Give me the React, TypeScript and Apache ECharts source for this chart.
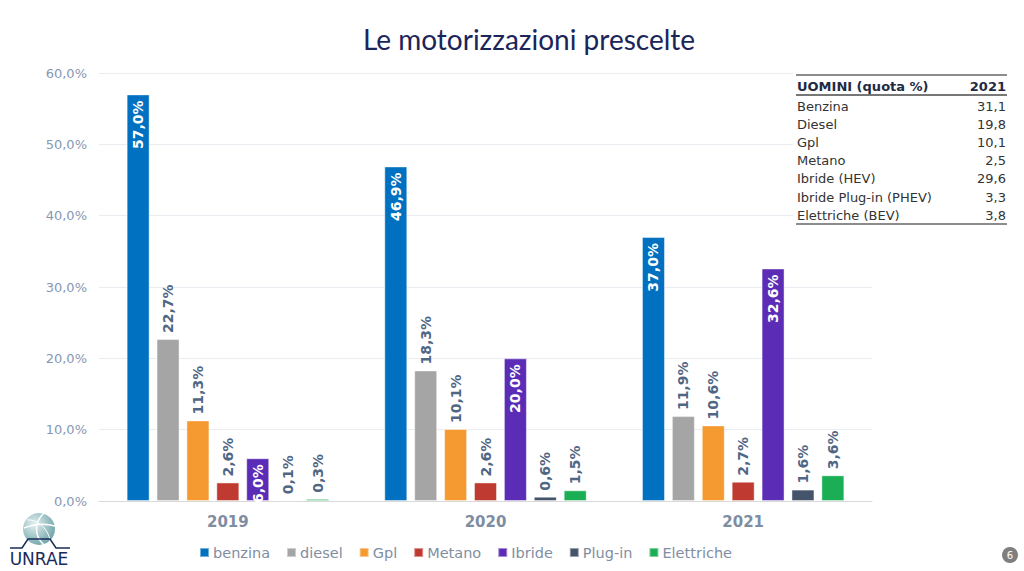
import React, { useEffect, useRef } from "react";
import * as echarts from "echarts";

const years = ["2019", "2020", "2021"];
const seriesNames = ["benzina", "diesel", "Gpl", "Metano", "Ibride", "Plug-in", "Elettriche"];
const benzina = [57.0, 46.9, 37.0];
const diesel = [22.7, 18.3, 11.9];
const gpl = [11.3, 10.1, 10.6];
const metano = [2.6, 2.6, 2.7];
const ibride = [6.0, 20.0, 32.6];
const plugin = [0.1, 0.6, 1.6];
const elettriche = [0.3, 1.5, 3.6];
const seriesValues = [benzina, diesel, gpl, metano, ibride, plugin, elettriche];
const seriesColors = ["#0070C0", "#A5A5A5", "#F49A31", "#BF3A30", "#5B2DB6", "#44546A", "#1AAE55"];
const insideSeries = ["benzina", "Ibride"];

const tableTitle = "UOMINI (quota %)";
const tableYear = "2021";
const tableLabels = ["Benzina", "Diesel", "Gpl", "Metano", "Ibride (HEV)", "Ibride Plug-in (PHEV)", "Elettriche (BEV)"];
const tableValues = ["31,1", "19,8", "10,1", "2,5", "29,6", "3,3", "3,8"];

const fmt = (v: number) => v.toFixed(1).replace(".", ",") + "%";
const FONT = "DejaVu Sans";

export default function App() {
  const ref = useRef<HTMLDivElement>(null);
  useEffect(() => {
    if (!ref.current) return;
    const chart = echarts.init(ref.current, null, { renderer: "svg" });

    const series = seriesNames.map((name, i) => {
      const inside = insideSeries.includes(name);
      return {
        name,
        type: "bar",
        data: seriesValues[i],
        barWidth: 23,
        barGap: "30%",
        itemStyle: { color: seriesColors[i], borderColor: "rgba(255,255,255,0.45)", borderWidth: 1 },
        label: inside
          ? {
              show: true,
              position: "insideTop",
              rotate: 90,
              align: "right",
              verticalAlign: "middle",
              distance: 6,
              color: "#FFFFFF",
              fontFamily: FONT,
              fontWeight: "bold",
              fontSize: 14,
              formatter: (p: any) => fmt(p.value),
            }
          : {
              show: true,
              position: "top",
              rotate: 90,
              align: "left",
              verticalAlign: "middle",
              distance: 6,
              color: "#506685",
              fontFamily: FONT,
              fontWeight: "bold",
              fontSize: 14,
              formatter: (p: any) => fmt(p.value),
            },
      };
    });

    const rowY0 = 106;
    const rowH = 18.2;
    const tableGraphics: any[] = [
      { type: "rect", shape: { x: 793, y: 70, width: 218, height: 158 }, style: { fill: "#FFFFFF" }, z: 10 },
      { type: "line", shape: { x1: 796, y1: 75, x2: 1007, y2: 75 }, style: { stroke: "#8C8C8C", lineWidth: 2 }, z: 11 },
      { type: "line", shape: { x1: 796, y1: 95, x2: 1007, y2: 95 }, style: { stroke: "#4A4A4A", lineWidth: 1.5 }, z: 11 },
      { type: "line", shape: { x1: 796, y1: 224, x2: 1007, y2: 224 }, style: { stroke: "#8C8C8C", lineWidth: 2 }, z: 11 },
      {
        type: "text", x: 797, y: 86, z: 11,
        style: { text: tableTitle, font: `bold 13px '${FONT}'`, fill: "#1F2A44", textAlign: "left", textVerticalAlign: "middle" },
      },
      {
        type: "text", x: 1006, y: 86, z: 11,
        style: { text: tableYear, font: `bold 13px '${FONT}'`, fill: "#1F2A44", textAlign: "right", textVerticalAlign: "middle" },
      },
    ];
    tableLabels.forEach((lab, i) => {
      tableGraphics.push({
        type: "text", x: 797, y: rowY0 + i * rowH, z: 11,
        style: { text: lab, font: `13px '${FONT}'`, fill: "#333333", textAlign: "left", textVerticalAlign: "middle" },
      });
      tableGraphics.push({
        type: "text", x: 1006, y: rowY0 + i * rowH, z: 11,
        style: { text: tableValues[i], font: `13px '${FONT}'`, fill: "#333333", textAlign: "right", textVerticalAlign: "middle" },
      });
    });

    const logo: any[] = [
      {
        type: "circle", shape: { cx: 39, cy: 529, r: 16 },
        style: {
          fill: new echarts.graphic.RadialGradient(0.35, 0.35, 0.8, [
            { offset: 0, color: "#E4F0F0" },
            { offset: 1, color: "#5F9A9E" },
          ]),
        },
      },
      { type: "bezierCurve", shape: { x1: 44, y1: 513, x2: 44, y2: 545, cpx1: 34, cpy1: 522, cpx2: 34, cpy2: 536 }, style: { stroke: "#FFFFFF", lineWidth: 1.5, fill: null } },
      { type: "bezierCurve", shape: { x1: 24, y1: 528, x2: 55, y2: 526, cpx1: 34, cpy1: 524, cpx2: 45, cpy2: 523 }, style: { stroke: "#FFFFFF", lineWidth: 1.5, fill: null } },
      { type: "bezierCurve", shape: { x1: 27, y1: 520, x2: 50, y2: 541, cpx1: 38, cpy1: 519, cpx2: 49, cpy2: 530 }, style: { stroke: "#FFFFFF", lineWidth: 1, fill: null } },
      { type: "polyline", shape: { points: [[10, 548], [22, 548], [28, 539], [50, 539], [56, 548], [70, 548]] }, style: { stroke: "#1A2A5A", lineWidth: 1.5, fill: null } },
      {
        type: "text", x: 39, y: 559,
        style: { text: "UNRAE", font: `17px 'Liberation Sans Narrow', '${FONT}'`, fill: "#1A2A5A", textAlign: "center", textVerticalAlign: "middle" },
      },
    ];

    const pageNum: any[] = [
      { type: "circle", shape: { cx: 1010, cy: 555, r: 8 }, style: { fill: "#7F7F7F" } },
      { type: "text", x: 1010, y: 555, style: { text: "6", font: `10px '${FONT}'`, fill: "#FFFFFF", textAlign: "center", textVerticalAlign: "middle" } },
    ];

    chart.setOption({
      animation: false,
      backgroundColor: "#FFFFFF",
      title: {
        text: "Le motorizzazioni prescelte",
        left: 524,
        top: 20,
        textAlign: "center",
        textStyle: { fontFamily: "Lato", fontWeight: "normal", fontSize: 28, color: "#1B2559" },
      },
      legend: {
        data: seriesNames,
        left: 194,
        top: 540,
        itemWidth: 9,
        itemHeight: 9,
        itemGap: 16,
        icon: "rect",
        textStyle: { fontFamily: FONT, fontSize: 14.5, color: "#7F8EA3", padding: [0, 0, 0, -1] },
      },
      grid: { left: 99, right: 152, top: 73, bottom: 70, containLabel: false },
      xAxis: {
        type: "category",
        data: years,
        axisLine: { show: true, lineStyle: { color: "#D9D9D9", width: 1 } },
        axisTick: { show: false },
        axisLabel: { margin: 13, fontFamily: FONT, fontWeight: "bold", fontSize: 15, color: "#7F8DA2" },
      },
      yAxis: {
        type: "value",
        min: 0,
        max: 60,
        interval: 10,
        axisLine: { show: false },
        axisTick: { show: false },
        splitLine: { lineStyle: { color: "#E9EDF2", width: 1 } },
        axisLabel: { margin: 12, fontFamily: FONT, fontSize: 13, color: "#8798B2", formatter: (v: number) => fmt(v) },
      },
      series,
      graphic: { elements: [...tableGraphics, ...logo, ...pageNum] },
    });

    return () => chart.dispose();
  }, []);

  return (
    <div
      ref={ref}
      style={{ position: "fixed", left: 0, top: 0, width: 1024, height: 571, background: "#FFFFFF" }}
    />
  );
}
